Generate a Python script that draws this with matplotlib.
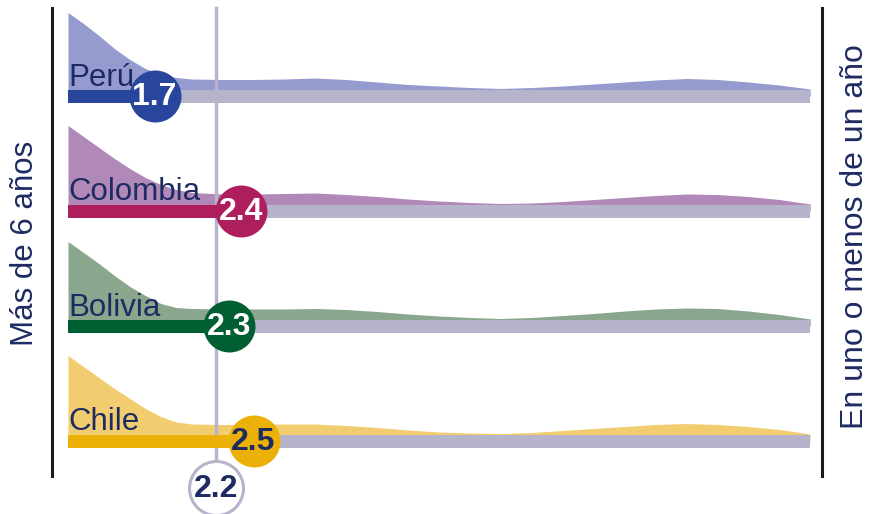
import matplotlib
matplotlib.use("Agg")
import matplotlib.pyplot as plt

# Data
countries = ["Perú", "Colombia", "Bolivia", "Chile"]
values = [1.7, 2.4, 2.3, 2.5]
reference = 2.2

dens_x = [1.0, 1.125, 1.25, 1.375, 1.5, 1.625, 1.75, 1.875, 2.0, 2.25, 2.5, 2.75,
          3.0, 3.25, 3.5, 3.75, 4.0, 4.25, 4.5, 4.75, 5.0, 5.25, 5.5, 5.75,
          6.0, 6.25, 6.5, 6.75, 7.0]
peru_dens = [77, 66, 54, 41, 30, 21, 15, 12, 10.5, 10, 10, 10.5, 11.5, 10, 7.5, 5,
             3.5, 2, 1, 2, 3.5, 5.5, 7.5, 9.5, 11, 10, 7.5, 4.5, 0.5]
colombia_dens = [79, 68, 57, 46, 36, 27, 20, 15, 12, 10.5, 10.5, 11, 11.5, 10, 8, 5.5,
                 3.5, 2, 1, 1.5, 3, 5, 7, 9, 10.5, 10, 8, 5, 0.5]
bolivia_dens = [78, 67, 56, 44, 33, 24, 16, 12, 11, 10.5, 10.5, 10.5, 11, 10, 8, 5.5,
                3.5, 2, 1, 2, 4, 6, 8.5, 10.5, 11.5, 11, 8.5, 5, 0.5]
chile_dens = [79, 68, 57, 46, 36, 26, 18, 12.5, 10.5, 10, 10, 10.5, 10.5, 9, 7, 4.5,
              2.5, 1.5, 1, 2, 4, 6, 8, 10, 11, 10, 8, 5, 0.5]
densities = [peru_dens, colombia_dens, bolivia_dens, chile_dens]

x_min, x_max = 1.0, 7.0
left_label = "Más de 6 años"
right_label = "En uno o menos de un año"

# Styles
fill_colors = ["#959bcf", "#b089b8", "#8aa78d", "#f2cd6f"]
bar_colors = ["#27469c", "#af1e5c", "#005e33", "#ebb109"]
value_text_colors = ["white", "white", "white", "#1f2b5e"]
grey = "#b6b4ca"
navy = "#1e2b62"
plt.rcParams["font.family"] = ["Liberation Sans", "DejaVu Sans"]

fig = plt.figure(figsize=(8.69, 5.14), dpi=100)
ax = fig.add_axes([0, 0, 1, 1])
ax.set_xlim(0.4503, 7.4754)
ax.set_ylim(0, 514)
ax.axis("off")

row_top = 418
row_gap = 115
bar_h = 13

for i, name in enumerate(countries):
    yc = row_top - i * row_gap
    base = yc + bar_h / 2
    ax.fill_between(dens_x, yc, [base + d for d in densities[i]],
                    color=fill_colors[i], linewidth=0, zorder=1)
    ax.barh(yc, x_max - x_min, left=x_min, height=bar_h, color=grey, zorder=2)
    ax.barh(yc, values[i] - x_min, left=x_min, height=bar_h,
            color=bar_colors[i], zorder=4)
    ax.text(x_min, base + 4, name, fontsize=22.5, color=navy,
            ha="left", va="baseline", zorder=5)
    ax.scatter([values[i]], [yc], s=1400, color=bar_colors[i], zorder=6,
               linewidths=0)
    ax.text(values[i], yc - 1, f"{values[i]:.1f}", fontsize=23, fontweight="bold",
            color=value_text_colors[i], ha="center", va="center", zorder=7)

# reference line and bubble
ref_y = 26
ax.plot([reference, reference], [ref_y, 506], color=grey, lw=2.5, zorder=3)
ax.scatter([reference], [ref_y], s=1512, facecolor="white", edgecolor=grey,
           linewidths=2.2, zorder=6)
ax.text(reference, ref_y - 1, f"{reference:.1f}", fontsize=23, fontweight="bold",
        color=navy, ha="center", va="center", zorder=7)

# side axes
ax.plot([x_min - 0.13] * 2, [38, 506], color="#1a1a1a", lw=2.2)
ax.plot([x_max + 0.095] * 2, [38, 506], color="#1a1a1a", lw=2.2)
ax.text(x_min - 0.348, 271, left_label, rotation=90, fontsize=22.5, color=navy,
        ha="center", va="center")
ax.text(x_max + 0.36, 277, right_label, rotation=90, fontsize=23, color=navy,
        ha="center", va="center")

fig.savefig("out.png", dpi=100)
